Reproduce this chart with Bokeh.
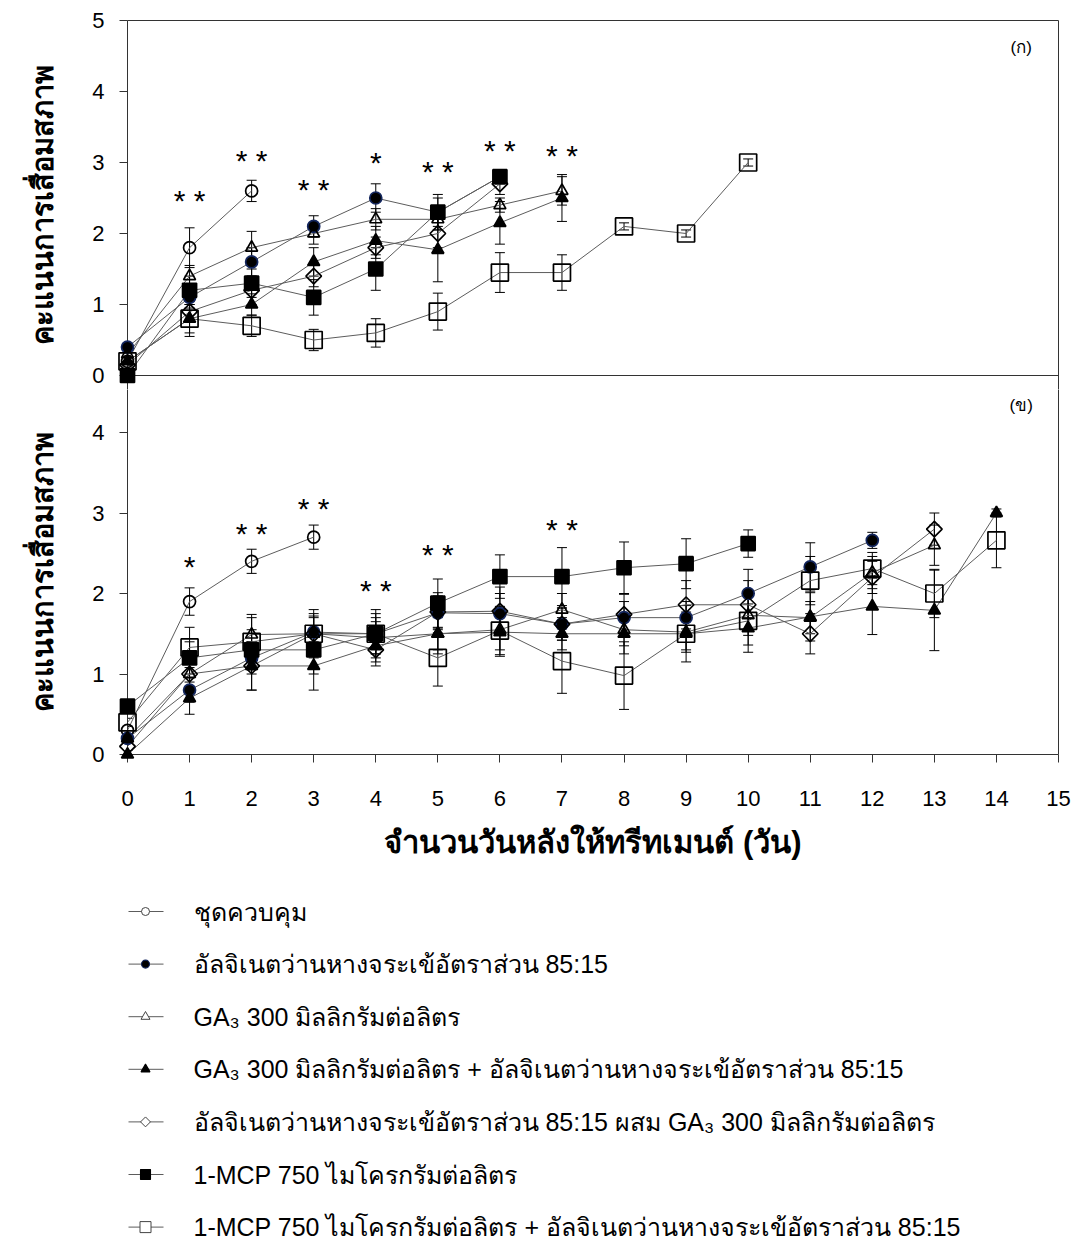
import numpy as np
from bokeh.plotting import figure
from bokeh.layouts import column
from bokeh.models import (ColumnDataSource, Whisker, TeeHead, FixedTicker, Label, LinearAxis, Span)
from bokeh.core.properties import value
from bokeh.embed import file_html
from bokeh.resources import INLINE

FONT = "Liberation Sans"

# ---- treatment names (legend) ----
names = [
    "ชุดควบคุม",
    "อัลจิเนตว่านหางจระเข้อัตราส่วน  85:15",
    "GA₃  300 มิลลิกรัมต่อลิตร",
    "GA₃ 300 มิลลิกรัมต่อลิตร + อัลจิเนตว่านหางจระเข้อัตราส่วน  85:15",
    "อัลจิเนตว่านหางจระเข้อัตราส่วน  85:15 ผสม GA₃ 300 มิลลิกรัมต่อลิตร",
    "1-MCP 750 ไมโครกรัมต่อลิตร",
    "1-MCP 750 ไมโครกรัมต่อลิตร + อัลจิเนตว่านหางจระเข้อัตราส่วน  85:15",
]

# ---- panel (ก): deterioration score, mean and error ----
a_ctrl = [0.2, 1.8, 2.6]
a_ctrl_err = [0.05, 0.28, 0.15]
a_alg = [0.4, 1.1, 1.6, 2.1, 2.5, 2.3, 2.8]
a_alg_err = [0.05, 0.15, 0.2, 0.15, 0.2, 0.2, 0.1]
a_ga = [0.3, 1.4, 1.8, 2.0, 2.2, 2.2, 2.4, 2.6]
a_ga_err = [0.05, 0.15, 0.23, 0.15, 0.15, 0.15, 0.1, 0.2]
a_ga_alg = [0.2, 0.8, 1.0, 1.6, 1.9, 1.77, 2.15, 2.5]
a_ga_alg_err = [0.05, 0.2, 0.15, 0.2, 0.2, 0.45, 0.3, 0.33]
a_alg_ga = [0.15, 0.9, 1.2, 1.4, 1.8, 2.0, 2.7]
a_alg_ga_err = [0.05, 0.15, 0.2, 0.15, 0.15, 0.2, 0.15]
a_mcp = [0.0, 1.2, 1.3, 1.1, 1.5, 2.3, 2.8]
a_mcp_err = [0.0, 0.2, 0.2, 0.25, 0.3, 0.25, 0.1]
a_mcp_alg = [0.2, 0.8, 0.7, 0.5, 0.6, 0.9, 1.45, 1.45, 2.1, 2.0, 3.0]
a_mcp_alg_err = [0.05, 0.25, 0.15, 0.15, 0.2, 0.26, 0.28, 0.25, 0.05, 0.05, 0.05]

# significance marks, panel (ก)
a_sig_day = [1, 2, 3, 4, 5, 6, 7]
a_sig_y = [2.46, 3.03, 2.62, 3.0, 2.88, 3.17, 3.1]
a_sig_txt = ["* *", "* *", "* *", "*", "* *", "* *", "* *"]

# ---- panel (ข) ----
b_ctrl = [0.3, 1.9, 2.4, 2.7]
b_ctrl_err = [0.05, 0.17, 0.15, 0.15]
b_alg = [0.2, 0.8, 1.2, 1.52, 1.5, 1.76, 1.75, 1.62, 1.7, 1.7, 2.0, 2.33, 2.66]
b_alg_err = [0.05, 0.15, 0.2, 0.2, 0.2, 0.25, 0.25, 0.2, 0.2, 0.2, 0.3, 0.3, 0.1]
b_ga = [0.2, 1.0, 1.49, 1.5, 1.45, 1.5, 1.55, 1.8, 1.55, 1.52, 1.73, 1.7, 2.26, 2.6]
b_ga_err = [0.05, 0.2, 0.25, 0.25, 0.2, 0.2, 0.25, 0.2, 0.2, 0.25, 0.25, 0.2, 0.2, 0.25]
b_ga_alg = [0.0, 0.7, 1.1, 1.1, 1.35, 1.5, 1.52, 1.5, 1.5, 1.5, 1.57, 1.71, 1.84, 1.79, 3.0]
b_ga_alg_err = [0.0, 0.2, 0.3, 0.3, 0.2, 0.25, 0.3, 0.2, 0.25, 0.2, 0.3, 0.3, 0.35, 0.5, 0.05]
b_alg_ga = [0.1, 1.0, 1.1, 1.5, 1.3, 1.77, 1.78, 1.62, 1.74, 1.86, 1.86, 1.5, 2.2, 2.8]
b_alg_ga_err = [0.05, 0.2, 0.3, 0.2, 0.2, 0.2, 0.3, 0.2, 0.25, 0.3, 0.3, 0.25, 0.2, 0.2]
b_mcp = [0.6, 1.2, 1.3, 1.3, 1.5, 1.88, 2.21, 2.21, 2.32, 2.37, 2.62]
b_mcp_err = [0.05, 0.2, 0.25, 0.3, 0.3, 0.3, 0.27, 0.36, 0.32, 0.31, 0.17]
b_mcp_alg = [0.4, 1.33, 1.4, 1.5, 1.5, 1.2, 1.54, 1.16, 0.98, 1.5, 1.66, 2.16, 2.31, 2.0, 2.66]
b_mcp_alg_err = [0.05, 0.25, 0.3, 0.3, 0.25, 0.35, 0.3, 0.4, 0.42, 0.35, 0.3, 0.3, 0.2, 0.3, 0.34]

b_sig_day = [1, 2, 3, 4, 5, 7]
b_sig_y = [2.33, 2.75, 3.06, 2.04, 2.48, 2.79]
b_sig_txt = ["*", "* *", "* *", "* *", "* *", "* *"]

x_ticks = list(range(16))
y_ticks = [0, 1, 2, 3, 4, 5]
ytitle = "คะแนนการเสื่อมสภาพ"
xtitle = "จำนวนวันหลังให้ทรีทเมนต์ (วัน)"

# marker style per treatment
styles = [
    dict(marker="circle", fill_color="white", fill_alpha=0, line_color="black", size=12, angle=0, leg=8),
    dict(marker="circle", fill_color="black", fill_alpha=1, line_color="#13265e", size=12, angle=0, leg=8),
    dict(marker="triangle", fill_color="white", fill_alpha=0, line_color="black", size=12, angle=0, leg=9),
    dict(marker="triangle", fill_color="black", fill_alpha=1, line_color="black", size=12, angle=0, leg=9),
    dict(marker="square", fill_color="white", fill_alpha=0, line_color="black", size=11, angle=np.pi / 4, leg=7),
    dict(marker="square", fill_color="black", fill_alpha=1, line_color="black", size=14, angle=0, leg=10),
    dict(marker="square", fill_color="white", fill_alpha=0, line_color="black", size=17, angle=0, leg=11),
]

LINE_COL = "#5c5c5c"
AX_COL = "#333333"
EXT = 14  # px of the upper panel's frame that lies below its zero line


def plain_axis(p, side):
    """Axis that only draws its line, used as a frame edge."""
    ax = LinearAxis(ticker=FixedTicker(ticks=[]), axis_line_color=AX_COL,
                    major_tick_out=0, major_tick_in=0, minor_tick_out=0, minor_tick_in=0,
                    major_label_text_font_size="0px")
    p.add_layout(ax, side)


def make_fig(height, frame_height, y_range, top, bottom, show_x):
    p = figure(width=1079, height=height, frame_width=931, frame_height=frame_height,
               x_range=(0, 15), y_range=y_range,
               output_backend="svg", toolbar_location=None,
               min_border_left=127, min_border_right=21,
               min_border_top=top, min_border_bottom=bottom,
               x_axis_location="below" if show_x else None)
    p.xgrid.visible = False
    p.ygrid.visible = False
    p.outline_line_color = None
    p.background_fill_color = "white"
    p.border_fill_color = "white"
    ya = p.yaxis[0]
    ya.ticker = FixedTicker(ticks=y_ticks)
    ya.major_tick_out = 8
    ya.major_tick_in = 0
    ya.minor_tick_out = 0
    ya.minor_tick_in = 0
    ya.axis_line_color = AX_COL
    ya.major_tick_line_color = AX_COL
    ya.major_label_text_font = FONT
    ya.major_label_text_font_size = "22px"
    ya.major_label_text_color = "black"
    ya.major_label_standoff = 15
    ya.axis_label = ytitle
    ya.axis_label_text_font = FONT
    ya.axis_label_text_font_style = "bold"
    ya.axis_label_text_font_size = "29px"
    ya.axis_label_text_color = "black"
    ya.axis_label_standoff = 30
    if show_x:
        xa = p.xaxis[0]
        xa.ticker = FixedTicker(ticks=x_ticks)
        xa.major_tick_out = 8
        xa.major_tick_in = 0
        xa.minor_tick_out = 0
        xa.minor_tick_in = 0
        xa.axis_line_color = AX_COL
        xa.major_tick_line_color = AX_COL
        xa.major_label_text_font = FONT
        xa.major_label_text_font_size = "22px"
        xa.major_label_text_color = "black"
        xa.major_label_standoff = 28
        xa.axis_label = xtitle
        xa.axis_label_text_font = FONT
        xa.axis_label_text_font_style = "bold"
        xa.axis_label_text_font_size = "31px"
        xa.axis_label_text_color = "black"
        xa.axis_label_standoff = 16
    plain_axis(p, "right")
    return p


def draw_panel(p, series, sig_day, sig_y, sig_txt, tag, tag_y):
    for vals, _ in series:
        src = ColumnDataSource(dict(x=list(range(len(vals))), y=vals))
        p.line("x", "y", source=src, line_color=LINE_COL, line_width=1)
    for vals, err in series:
        src = ColumnDataSource(dict(x=list(range(len(vals))),
                                    lo=[max(0.0, v - e) for v, e in zip(vals, err)],
                                    hi=[v + e for v, e in zip(vals, err)]))
        w = Whisker(base="x", lower="lo", upper="hi", source=src, line_color="black", line_width=1,
                    lower_head=TeeHead(size=10, line_color="black", line_width=1),
                    upper_head=TeeHead(size=10, line_color="black", line_width=1))
        p.add_layout(w)
    for (vals, _), st in zip(series, styles):
        src = ColumnDataSource(dict(x=list(range(len(vals))), y=vals))
        p.scatter("x", "y", source=src, marker=st["marker"], size=st["size"], angle=st["angle"],
                  fill_color=st["fill_color"], fill_alpha=st["fill_alpha"],
                  line_color=st["line_color"], line_width=1.7, level="overlay")
    p.text(x=sig_day, y=sig_y, text=sig_txt, text_align="center", text_baseline="middle",
           text_font=value(FONT), text_font_size="30px", text_color="black")
    p.add_layout(Label(x=14.4, y=tag_y, text=tag, text_align="center", text_baseline="middle",
                       text_font=FONT, text_font_size="17px", text_color="black"))


# upper panel: 0..5, frame extended a little below zero so its "0" label stays inside
a_ppu = 355 / 5.0
p1 = make_fig(20 + 355 + EXT, 355 + EXT, (-EXT / a_ppu, 5), 20, 0, False)
plain_axis(p1, "above")
p1.add_layout(Span(location=0, dimension="width", line_color=AX_COL, line_width=1))
series_a = [(a_ctrl, a_ctrl_err), (a_alg, a_alg_err), (a_ga, a_ga_err), (a_ga_alg, a_ga_alg_err),
            (a_alg_ga, a_alg_ga_err), (a_mcp, a_mcp_err), (a_mcp_alg, a_mcp_alg_err)]
draw_panel(p1, series_a, a_sig_day, a_sig_y, a_sig_txt, "(ก)", 4.62)

# lower panel: 0..4.71 in total, the top EXT px of it belong to the upper canvas
b_ppu = 80.5
b_top = 379 / b_ppu
p2 = make_fig(379 - EXT + 116, 379 - EXT, (0, b_top - EXT / b_ppu), 0, 116, True)
series_b = [(b_ctrl, b_ctrl_err), (b_alg, b_alg_err), (b_ga, b_ga_err), (b_ga_alg, b_ga_alg_err),
            (b_alg_ga, b_alg_ga_err), (b_mcp, b_mcp_err), (b_mcp_alg, b_mcp_alg_err)]
draw_panel(p2, series_b, b_sig_day, b_sig_y, b_sig_txt, "(ข)", 4.34)

# legend block below the chart, in pixel units (y grows downward);
# the column aligns its frame with the chart frame (x 127..1058)
p3 = figure(width=1079, height=371, x_range=(127, 1058), y_range=(371, 0),
            output_backend="svg", toolbar_location=None,
            x_axis_location=None, y_axis_location=None,
            min_border_left=0, min_border_right=0, min_border_top=0, min_border_bottom=0)
p3.outline_line_color = None
p3.xgrid.visible = False
p3.ygrid.visible = False
row_y = [41 + 52.6 * i for i in range(len(names))]
p3.segment(x0=[128] * len(names), y0=row_y, x1=[163] * len(names), y1=row_y,
           line_color=LINE_COL, line_width=1)
for yy, st in zip(row_y, styles):
    p3.scatter(x=[145], y=[yy], marker=st["marker"], size=st["leg"], angle=st["angle"],
               fill_color=st["fill_color"], fill_alpha=1,
               line_color=st["line_color"] if st["fill_alpha"] else "#444444",
               line_width=1.1 if st["fill_alpha"] else 1.0)
p3.text(x=[193] * len(names), y=row_y, text=names, text_align="left", text_baseline="middle",
        text_font=value(FONT), text_font_size="25px", text_color="black")

layout = column(p1, p2, p3, spacing=0)
open("out.html", "w").write(file_html(layout, INLINE))
